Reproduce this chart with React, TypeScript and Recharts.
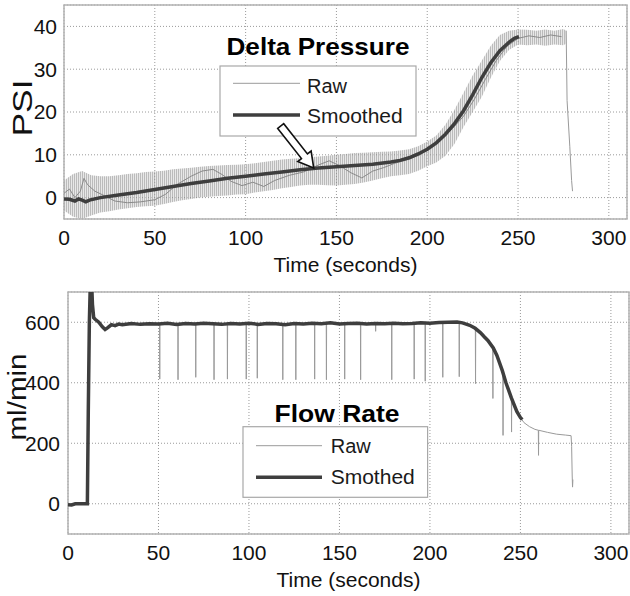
import React from 'react';
import {
  ComposedChart,
  Line,
  Area,
  XAxis,
  YAxis,
  CartesianGrid,
  ReferenceArea,
  ReferenceDot,
  Legend,
  Label
} from 'recharts';

const FONT = '"Liberation Sans", Arial, Helvetica, sans-serif';

// ---- Delta pressure (PSI) ----
// smoothed curve [time, psi]
const dpSmoothed: [number, number][] = [
  [0, -0.3], [3, -0.4], [6, -0.8], [8, -0.3], [10, -0.6], [12, -1.0], [14, -0.6],
  [20, 0.0], [30, 0.6], [40, 1.2], [50, 1.9], [60, 2.6], [70, 3.3], [80, 3.9],
  [90, 4.5], [100, 5.0], [110, 5.5], [120, 6.0], [130, 6.5], [140, 6.9], [150, 7.2],
  [160, 7.5], [170, 7.8], [180, 8.3], [185, 8.7], [190, 9.3], [195, 10.2], [200, 11.3],
  [205, 12.8], [210, 14.8], [215, 17.3], [220, 20.3], [225, 24.0], [230, 28.0],
  [235, 31.5], [240, 34.3], [245, 36.3], [248, 37.2], [250.5, 37.6]
];

// raw signal spread [time, low, high]
const dpRawBand: [number, number, number][] = [
  [0, -3.0, 4.0], [5, -4.5, 5.5], [10, -5.0, 6.2], [15, -4.2, 5.2], [20, -3.5, 5.0],
  [25, -3.2, 5.0], [30, -2.8, 5.2], [35, -2.5, 5.5], [40, -2.2, 5.7], [45, -2.0, 6.0],
  [50, -1.9, 6.1], [55, -1.5, 6.3], [60, -1.0, 6.6], [65, -0.6, 6.8], [70, -0.3, 7.0],
  [75, 0.0, 7.2], [80, 0.2, 7.4], [85, 0.4, 7.5], [90, 0.5, 7.6], [95, 0.7, 7.7],
  [100, 0.8, 7.8], [105, 1.2, 8.0], [110, 1.5, 8.3], [115, 1.8, 8.6], [120, 2.2, 8.9],
  [125, 2.5, 9.1], [130, 2.8, 9.2], [135, 3.0, 9.4], [140, 3.0, 9.6], [145, 2.9, 9.8],
  [150, 2.8, 10.0], [155, 3.0, 10.2], [160, 3.2, 10.4], [165, 3.5, 10.5], [170, 4.0, 10.6],
  [175, 4.5, 10.7], [180, 5.0, 10.8], [185, 5.2, 11.0], [190, 5.5, 11.3], [195, 6.3, 12.0],
  [200, 7.3, 13.1], [205, 8.2, 14.5], [210, 9.8, 17.0], [215, 12.5, 20.5], [220, 16.5, 24.5],
  [225, 20.0, 28.5], [230, 23.5, 32.0], [235, 28.0, 35.5], [240, 31.9, 38.0], [245, 34.5, 39.0],
  [250, 35.8, 39.3], [255, 35.6, 39.2], [260, 35.8, 39.0], [265, 35.5, 39.3], [270, 35.8, 39.0],
  [275, 35.6, 39.4], [276.5, 36.0, 39.0]
];

// visible raw trace inside the spread [time, psi]
const dpRawTrace: [number, number][] = [
  [0, 1.0], [3, 2.0], [6, 0.0], [9, 1.5], [11, 4.5], [13, 3.0], [17, 1.5], [22, 0.5],
  [28, -0.8], [35, -1.2], [42, -1.0], [50, -0.5], [56, 0.8], [62, 3.0], [70, 5.0],
  [76, 6.2], [82, 6.6], [87, 5.4], [92, 3.8], [98, 2.8], [104, 3.6], [110, 2.6],
  [116, 4.0], [124, 5.2], [132, 6.0], [140, 7.6], [146, 8.6], [152, 7.4], [158, 5.8],
  [164, 4.6], [170, 6.2], [176, 7.0], [182, 8.0], [190, 9.0], [196, 10.0], [202, 11.8],
  [208, 13.6], [214, 16.2], [220, 19.0], [226, 23.0], [232, 27.6], [238, 32.0],
  [244, 35.4], [250, 37.2], [256, 37.8], [262, 37.4], [268, 38.0], [274, 37.6]
];

// raw drop at end of run [time, psi]
const dpRawTail: [number, number][] = [
  [276.5, 39.0], [277, 22.7], [278.5, 12.0], [279.5, 4.0], [280, 1.5]
];

// ---- Flow rate (ml/min) ----
const flowSmoothed: [number, number][] = [
  [0, -3], [2, -4], [4, 0], [10.7, 0], [11.2, 300], [11.8, 600], [12.3, 720], [13, 740],
  [13.5, 660], [14.2, 615], [15, 610], [17, 600], [19, 585], [20.5, 576], [22, 582],
  [24, 592], [26, 589], [28, 594], [30, 592], [35, 596], [40, 593], [45, 595], [50, 594],
  [55, 597], [60, 593], [65, 596], [70, 594], [75, 597], [80, 595], [85, 593], [90, 596],
  [95, 594], [100, 597], [105, 593], [110, 596], [115, 595], [120, 592], [125, 596],
  [130, 594], [135, 597], [140, 595], [145, 598], [150, 594], [155, 596], [160, 597],
  [165, 594], [170, 596], [175, 595], [180, 597], [185, 595], [190, 596], [195, 598],
  [200, 597], [205, 599], [210, 600], [215, 601], [218, 598], [220, 594], [222, 590],
  [225, 580], [228, 565], [230, 552], [232, 540], [235, 515], [237, 490], [240, 440],
  [242, 400], [245, 350], [248, 305], [250, 285], [251, 278]
];

const flowRaw: [number, number][] = [
  [0, -3], [4, 0], [10.7, 0], [11.2, 300], [11.8, 600], [12.3, 720], [13, 740], [13.5, 660],
  [14.2, 615], [20.5, 575], [25, 590],
  [50.6, 595], [50.7, 412], [50.8, 595],
  [60.7, 596], [60.8, 410], [60.9, 596],
  [70.5, 597], [70.6, 418], [70.7, 597],
  [80.6, 595], [80.7, 410], [80.8, 595],
  [88.0, 596], [88.1, 412], [88.2, 596],
  [98.4, 597], [98.5, 412], [98.6, 597],
  [104.5, 593], [104.6, 415], [104.7, 593],
  [118.6, 595], [118.7, 410], [118.8, 595],
  [125.8, 596], [125.9, 410], [126.0, 596],
  [136.2, 592], [136.3, 412], [136.4, 592],
  [142.7, 596], [142.8, 410], [142.9, 596],
  [152.8, 595], [152.9, 412], [153.0, 595],
  [161.6, 597], [161.7, 410], [161.8, 597],
  [169.9, 595], [170.0, 570], [170.1, 595],
  [178.8, 596], [178.9, 410], [179.0, 596],
  [191.2, 596], [191.3, 412], [191.4, 596],
  [197.3, 598], [197.4, 405], [197.5, 598],
  [207.0, 599], [207.1, 418], [207.2, 599],
  [216.1, 600], [216.2, 420], [216.3, 600],
  [220, 594], [225.1, 580], [225.2, 397], [225.3, 579], [230, 552],
  [234.7, 518], [234.8, 348], [234.9, 514], [240.3, 442], [240.4, 226], [240.5, 437],
  [245.0, 352], [245.1, 237], [245.2, 348], [248, 305], [250, 285], [252, 268], [255, 255],
  [258, 246], [259.9, 243], [260.0, 160], [260.1, 243], [265, 236], [270, 230], [275, 227],
  [278, 225], [278.3, 190], [278.6, 95], [278.8, 55], [279, 80]
];

const timeTicks = [0, 50, 100, 150, 200, 250, 300];
const psiTicks = [0, 10, 20, 30, 40];
const flowTicks = [0, 200, 400, 600];

const pairs = (arr: [number, number][]) => arr.map(([t, v]) => ({ t, v }));
const dpSmoothData = pairs(dpSmoothed);
const dpTraceData = pairs(dpRawTrace);
const dpTailData = pairs(dpRawTail);
const dpBandData = dpRawBand.map(([t, lo, hi]) => ({ t, range: [lo, hi] }));
const flowSmoothData = pairs(flowSmoothed);
const flowRawData = pairs(flowRaw);

const tickStyle = { fontSize: 21, fill: '#111', fontFamily: FONT };
const RAW = '#9a9a9a';
const SMOOTH = '#3e3e3e';

// hollow arrow pointing at the smoothed curve
const PressureArrow = (props: any) => {
  const { cx, cy } = props;
  if (cx == null || cy == null) return null;
  const dx = 33, dy = 42;
  const len = Math.sqrt(dx * dx + dy * dy);
  const ux = dx / len, uy = dy / len;
  const nx = -uy, ny = ux;
  const sw = 3.8, hw = 8.5, hl = 15;
  const bx = cx - dx, by = cy - dy;
  const kx = cx - ux * hl, ky = cy - uy * hl;
  const pts = [
    [bx + nx * sw, by + ny * sw],
    [kx + nx * sw, ky + ny * sw],
    [kx + nx * hw, ky + ny * hw],
    [cx, cy],
    [kx - nx * hw, ky - ny * hw],
    [kx - nx * sw, ky - ny * sw],
    [bx - nx * sw, by - ny * sw]
  ].map(p => p.join(',')).join(' ');
  return <polygon points={pts} fill="#fff" stroke="#111" strokeWidth={1.6} strokeLinejoin="miter" />;
};

const YTitle = ({ viewBox, text, len, size, dx, dy }: any) => {
  const vb = viewBox || { x: 0, y: 0, width: 0, height: 0 };
  const x = vb.x + dx;
  const y = vb.y + vb.height / 2 + dy;
  return (
    <text x={x} y={y} transform={`rotate(-90, ${x}, ${y})`} textAnchor="middle" dominantBaseline="central"
      fontSize={size} fontFamily={FONT} fill="#111" textLength={len} lengthAdjust="spacingAndGlyphs">
      {text}
    </text>
  );
};

const LegendBlock = ({ w, h, title, titleX, titleY, titleLen, box, lineX1, lineX2, rowY, textX, textY, labels }: any) => (
  <svg width={w} height={h} style={{ overflow: 'visible', display: 'block' }}>
    <text x={titleX} y={titleY} textAnchor="middle" fontSize={24} fontWeight="bold" fontFamily={FONT} fill="#000"
      textLength={titleLen} lengthAdjust="spacingAndGlyphs">{title}</text>
    <rect x={box[0]} y={box[1]} width={box[2]} height={box[3]} fill="#fff" stroke="#a8a8a8" strokeWidth={1.2} />
    <line x1={lineX1} x2={lineX2} y1={rowY[0]} y2={rowY[0]} stroke={RAW} strokeWidth={1} />
    <line x1={lineX1} x2={lineX2} y1={rowY[1]} y2={rowY[1]} stroke={SMOOTH} strokeWidth={3.5} />
    <text x={textX} y={textY[0]} fontSize={20} fontFamily={FONT} fill="#1a1a1a">{labels[0]}</text>
    <text x={textX} y={textY[1]} fontSize={21} fontFamily={FONT} fill="#1a1a1a">{labels[1]}</text>
  </svg>
);

const PressureChart = () => (
  <ComposedChart width={630} height={280} margin={{ top: 5, right: 3, bottom: 0, left: 0 }}>
    <defs>
      <pattern id="rawHatch" width="2" height="4" patternUnits="userSpaceOnUse">
        <rect x="0" y="0" width="2" height="4" fill="#d9d9d9" />
        <rect x="0" y="0" width="1" height="4" fill="#8e8e8e" />
      </pattern>
    </defs>
    <CartesianGrid stroke="#9a9a9a" strokeDasharray="1 2" />
    <XAxis dataKey="t" type="number" domain={[0, 310]} ticks={timeTicks} allowDataOverflow
      axisLine={false} tickLine={false} tickSize={0} tickMargin={11} height={61} tick={tickStyle}>
      <Label value="Time (seconds)" position="insideBottom" offset={8} fontSize={21} fill="#111" fontFamily={FONT} />
    </XAxis>
    <YAxis type="number" domain={[-5, 45]} ticks={psiTicks} allowDataOverflow width={64}
      axisLine={false} tickLine={false} tickSize={0} tickMargin={7} tick={tickStyle}>
      <Label content={(p: any) => <YTitle {...p} text="PSI" len={57} size={27} dx={23} dy={-4} />} />
    </YAxis>
    <Area data={dpBandData} dataKey="range" type="linear" fill="url(#rawHatch)" stroke="none"
      isAnimationActive={false} legendType="none" />
    <Line data={dpTraceData} dataKey="v" type="linear" stroke="#8a8a8a" strokeWidth={1} dot={false}
      isAnimationActive={false} legendType="none" />
    <Line data={dpTailData} dataKey="v" type="linear" stroke={RAW} strokeWidth={1} dot={false}
      isAnimationActive={false} legendType="none" />
    <Line data={dpSmoothData} dataKey="v" type="linear" stroke={SMOOTH} strokeWidth={3.5} dot={false}
      isAnimationActive={false} />
    <ReferenceArea x1={0} x2={310} y1={-5} y2={45} fill="none" stroke="#b2b2b2" strokeWidth={1.5} />
    <Legend layout="vertical" align="center" verticalAlign="middle"
      wrapperStyle={{ left: 200, top: 30, width: 230, height: 112 }}
      content={() => (
        <LegendBlock w={230} h={112} title="Delta Pressure" titleX={118} titleY={25} titleLen={183}
          box={[20, 36, 196, 70]} lineX1={33} lineX2={100} rowY={[53.3, 85]} textX={107} textY={[62.7, 93.3]}
          labels={['Raw', 'Smoothed']} />
      )} />
  </ComposedChart>
);

// transparent layer with the same scales, so the arrow sits above the legend box
const PressureArrowLayer = () => (
  <ComposedChart width={630} height={280} data={dpSmoothData} margin={{ top: 5, right: 3, bottom: 61, left: 64 }}>
    <XAxis dataKey="t" type="number" domain={[0, 310]} allowDataOverflow hide />
    <YAxis type="number" domain={[-5, 45]} allowDataOverflow hide />
    <ReferenceDot x={137.5} y={6.9} shape={PressureArrow} ifOverflow="visible" />
  </ComposedChart>
);

const FlowChart = () => (
  <ComposedChart width={630} height={316} margin={{ top: 12, right: 1, bottom: 0, left: 0 }}>
    <CartesianGrid stroke="#9a9a9a" strokeDasharray="1 2" />
    <XAxis dataKey="t" type="number" domain={[0, 310]} ticks={timeTicks} allowDataOverflow
      axisLine={false} tickLine={false} tickSize={0} tickMargin={11} height={62} tick={tickStyle}>
      <Label value="Time (seconds)" position="insideBottom" offset={9} fontSize={21} fill="#111" fontFamily={FONT} />
    </XAxis>
    <YAxis type="number" domain={[-100, 700]} ticks={flowTicks} allowDataOverflow width={68}
      axisLine={false} tickLine={false} tickSize={0} tickMargin={8} tick={tickStyle}>
      <Label content={(p: any) => <YTitle {...p} text="ml/min" len={87} size={25} dx={17} dy={-16} />} />
    </YAxis>
    <Line data={flowRawData} dataKey="v" type="linear" stroke={RAW} strokeWidth={1} dot={false}
      isAnimationActive={false} />
    <Line data={flowSmoothData} dataKey="v" type="linear" stroke={SMOOTH} strokeWidth={3.5} dot={false}
      isAnimationActive={false} />
    <ReferenceArea x1={0} x2={310} y1={-100} y2={700} fill="none" stroke="#b2b2b2" strokeWidth={1.5} />
    <Legend layout="vertical" align="center" verticalAlign="middle"
      wrapperStyle={{ left: 225, top: 120, width: 215, height: 100 }}
      content={() => (
        <LegendBlock w={215} h={100} title="Flow Rate" titleX={112} titleY={21.7} titleLen={125}
          box={[18, 26.7, 184.6, 70.6]} lineX1={31} lineX2={97} rowY={[45.7, 77.3]} textX={105.7} textY={[53.3, 84]}
          labels={['Raw', 'Smothed']} />
      )} />
  </ComposedChart>
);

export default function App() {
  return (
    <div style={{ position: 'absolute', left: 0, top: 0, width: 630, height: 596, background: '#fff', fontFamily: FONT }}>
      <div style={{ position: 'absolute', left: 0, top: 0 }}>
        <PressureChart />
      </div>
      <div style={{ position: 'absolute', left: 0, top: 0, pointerEvents: 'none' }}>
        <PressureArrowLayer />
      </div>
      <div style={{ position: 'absolute', left: 0, top: 280 }}>
        <FlowChart />
      </div>
    </div>
  );
}
